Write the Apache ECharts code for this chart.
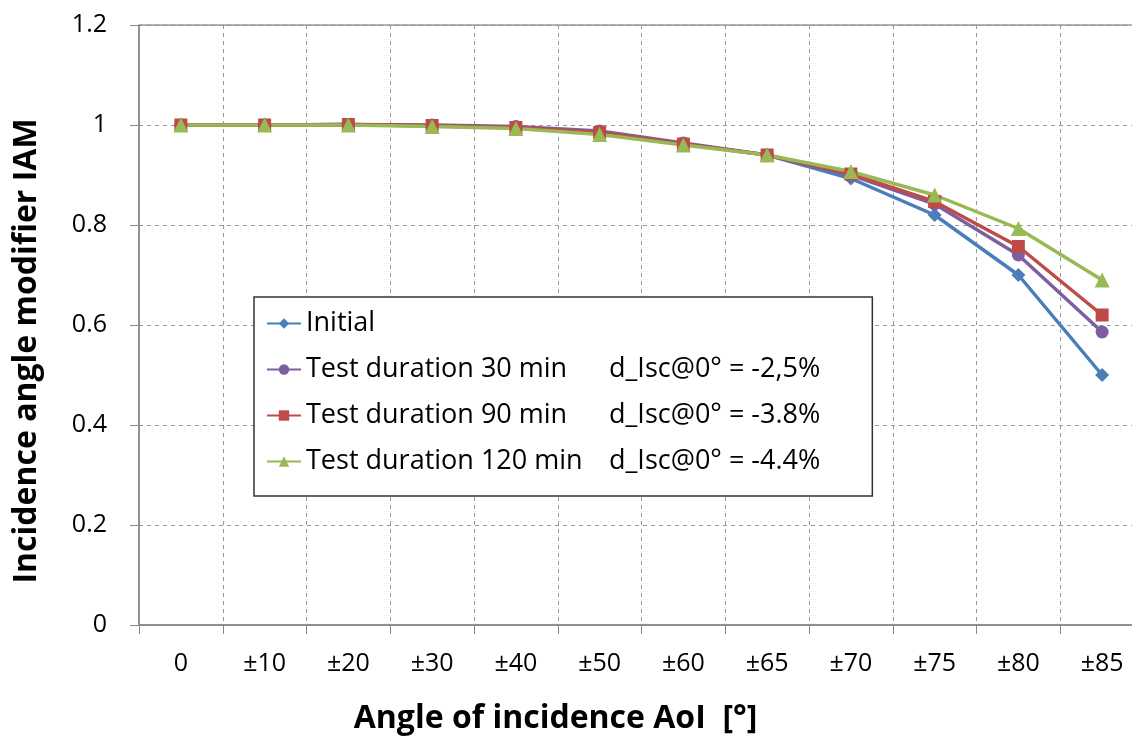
<!DOCTYPE html>
<html>
<head>
<meta charset="utf-8">
<script src="https://cdn.jsdelivr.net/npm/echarts@6/dist/echarts.min.js"></script>
<style>
  html, body { margin: 0; padding: 0; background: #fff; }
  #main { width: 1132px; height: 740px; }
</style>
</head>
<body>
<div id="main"></div>
<script>
// 入射角类别
var angles = ["0", "±10", "±20", "±30", "±40", "±50", "±60", "±65", "±70", "±75", "±80", "±85"];

// 各系列 IAM 值
var initial = [1, 1, 1.001, 0.998, 0.995, 0.985, 0.962, 0.94, 0.893, 0.82, 0.70, 0.50];
var test30 = [1, 1, 1.001, 1.0, 0.997, 0.988, 0.964, 0.94, 0.90, 0.842, 0.74, 0.586];
var test90 = [1, 1, 1.001, 0.999, 0.995, 0.985, 0.962, 0.94, 0.902, 0.847, 0.757, 0.62];
var test120 = [1, 1, 1.0, 0.997, 0.993, 0.981, 0.96, 0.94, 0.907, 0.86, 0.793, 0.69];

var names = ["Initial", "Test duration 30 min", "Test duration 90 min", "Test duration 120 min"];
var notes = ["", "d_Isc@0° = -2,5%", "d_Isc@0° = -3.8%", "d_Isc@0° = -4.4%"];
var yTicks = [0, 0.2, 0.4, 0.6, 0.8, 1, 1.2];

var myChart = echarts.init(document.getElementById("main"));
var font = "'Open Sans', 'Liberation Sans', sans-serif";

function mkSeries(i, data, color, symbol, size) {
  return {
    name: names[i],
    type: "line",
    data: data,
    color: color,
    symbol: symbol,
    symbolSize: size,
    lineStyle: { width: 3.5 },
    itemStyle: { color: color },
    animation: false
  };
}

var option = {
  backgroundColor: "#fff",
  textStyle: { fontFamily: font },
  grid: {
    left: 139,
    top: 25,
    right: -12,
    bottom: 115,
    outerBoundsMode: "none",
    show: true,
    borderColor: "#666",
    borderWidth: 1
  },
  legend: {
    orient: "vertical",
    left: 254,
    top: 297,
    backgroundColor: "#fff",
    borderColor: "#333",
    borderWidth: 1.5,
    padding: [13, 52, 21, 12],
    itemGap: 19,
    itemWidth: 34,
    itemHeight: 13,
    formatter: function (n) {
      var i = names.indexOf(n);
      return "{a|" + n + "}{b|" + notes[i] + "}";
    },
    textStyle: {
      rich: {
        a: { fontSize: 27, lineHeight: 30, fontFamily: font, color: "#000", width: 303 },
        b: { fontSize: 27, lineHeight: 30, fontFamily: font, color: "#000" }
      }
    }
  },
  xAxis: {
    type: "category",
    data: angles,
    name: "Angle of incidence AoI  [°]",
    nameLocation: "middle",
    nameGap: 78,
    nameTextStyle: { fontSize: 32, fontWeight: "bold", color: "#000", fontFamily: font, padding: [0, 172, 0, 0] },
    axisLine: { lineStyle: { color: "#888", width: 1.5 } },
    axisTick: { show: true, length: 9, lineStyle: { color: "#888" } },
    axisLabel: { fontSize: 25, color: "#000", margin: 26 },
    splitLine: { show: true, lineStyle: { color: "#999", type: [4, 4] } }
  },
  yAxis: {
    type: "value",
    min: 0,
    max: 1.2,
    interval: 0.2,
    name: "Incidence angle modifier IAM",
    nameLocation: "middle",
    nameGap: 96,
    nameTextStyle: { fontSize: 32, fontWeight: "bold", color: "#000", fontFamily: font, padding: [0, 52, 0, 0] },
    axisLine: { show: true, lineStyle: { color: "#888", width: 1.5 } },
    axisTick: { show: true, length: 9, inside: false, lineStyle: { color: "#888" } },
    axisLabel: {
      fontSize: 25,
      color: "#000",
      margin: 32,
      formatter: function (v) {
        for (var k = 0; k < yTicks.length; k++) {
          if (Math.abs(yTicks[k] - v) < 1e-6) return String(yTicks[k]);
        }
        return "";
      }
    },
    splitLine: { show: true, lineStyle: { color: "#999", type: [4, 4] } }
  },
  series: [
    mkSeries(0, initial, "#4a7ebb", "diamond", 14),
    mkSeries(1, test30, "#7d5fa0", "circle", 13),
    mkSeries(2, test90, "#be4b48", "rect", 13),
    mkSeries(3, test120, "#98b954", "triangle", 15)
  ]
};

myChart.setOption(option);
window.addEventListener("resize", myChart.resize);
</script>
</body>
</html>
